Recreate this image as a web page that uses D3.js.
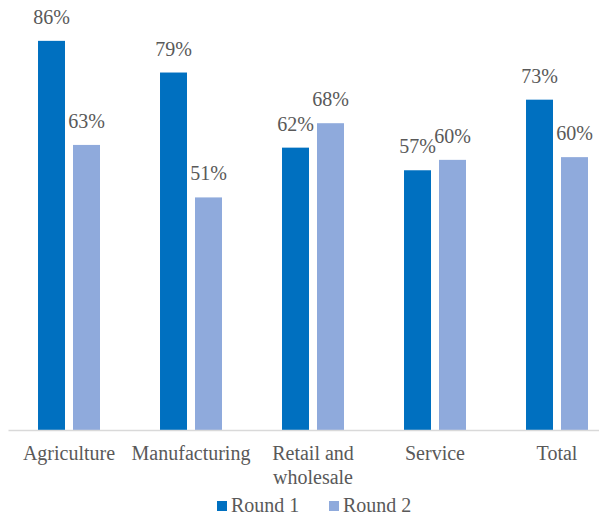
<html>
<body style="margin:0">
<svg id="plot"></svg>
<script src="https://cdnjs.cloudflare.com/ajax/libs/d3/7.8.5/d3.min.js"></script>
<script>

var sectors = ["Agriculture","Manufacturing","Retail and wholesale","Service","Total"];
var rounds = ["Round 1","Round 2"];
var round1 = [86, 79, 62.4, 57.4, 73];
var round2 = [63, 51.4, 67.8, 59.7, 60.3];
var colors = ["#0070C0","#8FAADC"];
var font = "'Liberation Serif'";
var textColor = "#595959";

var initGraph = function(target)
{
    var screen = {width:599, height:517};
    var baseline = 430;

    d3.select(target)
        .attr("width",screen.width)
        .attr("height",screen.height)

    //one row per sector
    var rows = sectors.map(function(s,i)
    {
        return {sector:s, values:[round1[i],round2[i]]};
    });

    var xScale = d3.scaleBand()
        .domain(sectors)
        .range([8,618])
        .paddingInner(0.492)
        .paddingOuter(0.246);

    var xInner = d3.scaleBand()
        .domain(rounds)
        .range([0,xScale.bandwidth()])
        .paddingInner(0.2286);

    var yScale = d3.scaleLinear()
        .domain([0,90])
        .range([baseline,baseline-90*4.525]);

    var groups = d3.select(target)
        .selectAll("g.sector")
        .data(rows)
        .enter()
        .append("g")
        .classed("sector",true)
        .attr("transform",function(d){return "translate("+xScale(d.sector)+",0)";});

    groups.selectAll("rect")
        .data(function(d){return d.values;})
        .enter()
        .append("rect")
        .attr("x",function(d,i){return xInner(rounds[i]);})
        .attr("y",function(d){return yScale(d);})
        .attr("width",xInner.bandwidth())
        .attr("height",function(d){return yScale(0)-yScale(d);})
        .attr("fill",function(d,i){return colors[i];});

    groups.selectAll("text.value")
        .data(function(d){return d.values;})
        .enter()
        .append("text")
        .classed("value",true)
        .attr("x",function(d,i){return xInner(rounds[i])+xInner.bandwidth()/2;})
        .attr("y",function(d){return yScale(d)-17;})
        .attr("text-anchor","middle")
        .style("font-family",font)
        .style("font-size","20px")
        .style("fill",textColor)
        .text(function(d){return Math.round(d)+"%";});

    //x axis, only the line and labels
    var xAxis = d3.axisBottom(xScale).tickSize(0).tickFormat("");
    var axis = d3.select(target)
        .append("g")
        .attr("transform","translate(0,"+baseline+")")
        .call(xAxis);
    axis.select(".domain")
        .attr("stroke","#d9d9d9")
        .attr("stroke-width",1.5);

    var labels = d3.select(target)
        .append("g")
        .selectAll("text")
        .data(sectors)
        .enter()
        .append("text")
        .attr("x",function(d){return xScale(d)+xScale.bandwidth()/2;})
        .attr("y",460)
        .attr("text-anchor","middle")
        .style("font-family",font)
        .style("font-size","20px")
        .style("fill",textColor);

    labels.each(function(d)
    {
        var lines = d=="Retail and wholesale" ? ["Retail and","wholesale"] : [d];
        var t = d3.select(this);
        lines.forEach(function(l,i)
        {
            t.append("tspan")
                .attr("x",xScale(d)+xScale.bandwidth()/2)
                .attr("dy",i==0 ? 0 : 24)
                .text(l);
        });
    });

    createLegend(target);
}

var createLegend = function(target)
{
    var legendX = [217,329];
    var legend = d3.select(target)
        .append("g")
        .selectAll("g")
        .data(rounds)
        .enter()
        .append("g")
        .attr("transform",function(d,i){return "translate("+legendX[i]+",501)";});

    legend.append("rect")
        .attr("width",10)
        .attr("height",10)
        .attr("fill",function(d,i){return colors[i];});

    legend.append("text")
        .attr("x",14)
        .attr("y",11)
        .style("font-family",font)
        .style("font-size","20px")
        .style("fill",textColor)
        .text(function(d){return d;});
}

initGraph("#plot");

</script>
</body>
</html>
